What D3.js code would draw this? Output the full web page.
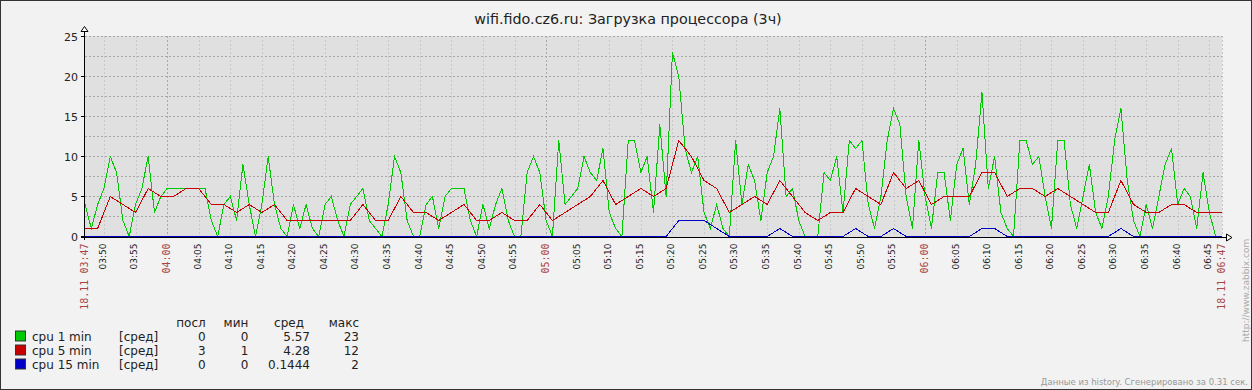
<!DOCTYPE html>
<html>
<head>
<meta charset="utf-8">
<script src="https://cdn.jsdelivr.net/npm/d3@7"></script>
<style>
  body { margin: 0; background: #f2f2f2; }
  svg { display: block; font-family: "DejaVu Sans", sans-serif; }
</style>
</head>
<body>
<svg id="chart" width="1252" height="390"></svg>
<script>
// cpu 1 min, one sample per minute from 03:47
const cpu1 = [
  4, 1, 4, 6, 10, 8, 2, 0, 4, 6, 10, 3, 5, 6, 6, 6, 6, 6, 6, 6,
  2, 0, 4, 5, 2, 9, 4, 0, 4, 10, 4, 1, 0, 4, 1, 4, 1, 0, 4, 5,
  2, 0, 4, 5, 6, 2, 1, 0, 4, 10, 8, 2, 0, 0, 4, 5, 1, 5, 6, 6,
  6, 2, 0, 4, 1, 4, 6, 2, 0, 0, 8, 10, 8, 2, 0, 12, 4, 5, 6, 10,
  8, 7, 11, 3, 1, 0, 12, 12, 8, 10, 3, 14, 5, 23, 20, 11, 8, 10, 3, 1,
  4, 1, 0, 12, 4, 9, 7, 2, 8, 10, 16, 5, 6, 2, 0, 0, 0, 8, 7, 10,
  3, 12, 11, 12, 4, 1, 5, 12, 16, 14, 5, 1, 12, 5, 1, 8, 8, 2, 9, 11,
  4, 9, 18, 6, 10, 3, 1, 0, 12, 12, 9, 10, 5, 1, 12, 12, 4, 1, 5, 9,
  3, 1, 5, 12, 16, 7, 2, 0, 4, 1, 5, 9, 11, 4, 6, 5, 1, 8, 3, 0,
  0
];
// cpu 5 min, one sample every 2 minutes
const cpu5 = [
  1, 1, 5, 4, 3, 6, 5, 5, 6, 6, 4, 4, 3, 4, 3, 4, 2, 2, 2, 2,
  2, 2, 4, 2, 2, 5, 3, 3, 2, 3, 4, 2, 2, 3, 2, 2, 4, 2, 3, 4,
  5, 7, 4, 5, 6, 5, 6, 12, 10, 7, 6, 3, 4, 5, 4, 7, 5, 3, 2, 3,
  3, 6, 5, 4, 8, 6, 7, 4, 5, 5, 5, 8, 8, 5, 6, 6, 5, 6, 5, 4,
  3, 3, 7, 4, 3, 3, 4, 4, 3, 3, 3
];
// cpu 15 min, one sample every 2 minutes
const cpu15 = [
  0, 0, 0, 0, 0, 0, 0, 0, 0, 0, 0, 0, 0, 0, 0, 0, 0, 0, 0, 0,
  0, 0, 0, 0, 0, 0, 0, 0, 0, 0, 0, 0, 0, 0, 0, 0, 0, 0, 0, 0,
  0, 0, 0, 0, 0, 0, 0, 2, 2, 2, 1, 0, 0, 0, 0, 1, 0, 0, 0, 0,
  0, 1, 0, 0, 1, 0, 0, 0, 0, 0, 0, 1, 1, 0, 0, 0, 0, 0, 0, 0,
  0, 0, 1, 0, 0, 0, 0, 0, 0, 0, 0
];

const seriesNames = ["cpu 1 min", "cpu 5 min", "cpu 15 min"];
const seriesColors = ["#00c800", "#c80000", "#0000c8"];
const legendHeads = ["посл", "мин", "сред", "макс"];
const lastVals = ["0", "3", "0"];
const minVals = ["0", "1", "0"];
const avgVals = ["5.57", "4.28", "0.1444"];
const maxVals = ["23", "12", "2"];
const yTicks = [0, 5, 10, 15, 20, 25];

const title = "wifi.fido.cz6.ru: Загрузка процессора (3ч)";
const footer = "Данные из history. Сгенерировано за 0.31 сек.";

const start = new Date(2000, 10, 18, 3, 47);
const end = d3.timeMinute.offset(start, 180);

const svg = d3.select("#chart");
const x = d3.scaleTime().domain([start, end]).range([85, 1222]);
const y = d3.scaleLinear().domain([0, 25]).range([236.5, 36.5]);

// background + frame
svg.append("rect").attr("x", 0.5).attr("y", 0.5).attr("width", 1251).attr("height", 389)
  .attr("fill", "#f2f2f2").attr("stroke", "#333");

svg.append("text").attr("x", 628).attr("y", 24).attr("text-anchor", "middle")
  .attr("font-size", 14.3).attr("fill", "#222").text(title);

// plot area
svg.append("rect").attr("x", 85).attr("y", 36).attr("width", 1137).attr("height", 201)
  .attr("fill", "#e0e0e0");

const grid = svg.append("g").attr("shape-rendering", "crispEdges");
d3.range(2.5, 25.01, 2.5).forEach(v => {
  grid.append("line").attr("x1", 85).attr("x2", 1222).attr("y1", y(v)).attr("y2", y(v))
    .attr("stroke", "#a8a8a8").attr("stroke-dasharray", "2,2");
});
const xTicks = x.ticks(d3.timeMinute.every(5)).filter(t => t > start && t < end);
xTicks.forEach(t => {
  const px = Math.round(x(t)) + 0.5;
  grid.append("line").attr("x1", px).attr("x2", px).attr("y1", 36).attr("y2", 236)
    .attr("stroke", t.getMinutes() === 0 ? "#a8a8a8" : "#c8c8c8")
    .attr("stroke-dasharray", "2,2");
});
grid.append("line").attr("x1", 1222.5).attr("x2", 1222.5).attr("y1", 36).attr("y2", 236)
  .attr("stroke", "#c8c8c8").attr("stroke-dasharray", "2,2");

// series
const line = d3.line().x(d => x(d.t)).y(d => y(d.v));
const sets = [
  cpu1.map((v, i) => ({ t: d3.timeMinute.offset(start, i), v })),
  cpu5.map((v, i) => ({ t: d3.timeMinute.offset(start, i * 2), v })),
  cpu15.map((v, i) => ({ t: d3.timeMinute.offset(start, i * 2), v }))
];
sets.forEach((d, i) => {
  svg.append("path").datum(d).attr("d", line).attr("fill", "none")
    .attr("stroke", seriesColors[i]).attr("stroke-width", 1)
    .attr("shape-rendering", "crispEdges");
});

// axes
const ax = svg.append("g").attr("stroke", "#000").attr("shape-rendering", "crispEdges");
ax.append("line").attr("x1", 84.5).attr("x2", 84.5).attr("y1", 32).attr("y2", 240);
ax.append("line").attr("x1", 81).attr("x2", 1226).attr("y1", 237.5).attr("y2", 237.5);
svg.append("path").attr("d", "M84.5,26.5 L88,31.5 L81,31.5 Z")
  .attr("fill", "#fff").attr("stroke", "#000");
svg.append("path").attr("d", "M1232,237.5 L1226.5,234 L1226.5,241 Z")
  .attr("fill", "#fff").attr("stroke", "#000");

yTicks.forEach(v => {
  ax.append("line").attr("x1", 81).attr("x2", 84).attr("y1", y(v)).attr("y2", y(v));
  svg.append("text").attr("x", 78).attr("y", y(v) + 4).attr("text-anchor", "end")
    .attr("font-size", 11).attr("fill", "#222").text(v);
});

const fmt = d3.timeFormat("%H:%M");
const fmtDate = d3.timeFormat("%d.%m %H:%M");
xTicks.forEach(t => {
  const hour = t.getMinutes() === 0;
  svg.append("text")
    .attr("transform", `translate(${x(t) + (hour ? 3.3 : 1.8)},243.5) rotate(-90)`)
    .attr("text-anchor", "end")
    .attr("font-family", hour ? "DejaVu Sans Mono" : "DejaVu Sans")
    .attr("font-size", hour ? 10 : 9)
    .attr("fill", hour ? "#a84444" : "#222")
    .text(fmt(t));
});
[start, end].forEach(t => {
  svg.append("text")
    .attr("transform", `translate(${x(t) + 3.3},243.5) rotate(-90)`)
    .attr("text-anchor", "end").attr("font-family", "DejaVu Sans Mono")
    .attr("font-size", 10).attr("fill", "#a84444").text(fmtDate(t));
});

// legend
const lg = svg.append("g").attr("font-size", 12).attr("fill", "#222");
const colX = [205.7, 248.3, 310, 359];
const headX = [205.7, 248.3, 304, 359];
legendHeads.forEach((h, i) => {
  lg.append("text").attr("x", headX[i]).attr("y", 326.5).attr("text-anchor", "end").text(h);
});
seriesNames.forEach((n, i) => {
  const by = 340.5 + i * 14;
  lg.append("rect").attr("x", 15.5).attr("y", by - 9.5).attr("width", 10).attr("height", 10)
    .attr("fill", seriesColors[i]).attr("stroke", "#333");
  lg.append("text").attr("x", 32).attr("y", by).text(n);
  lg.append("text").attr("x", 119).attr("y", by).text("[сред]");
  [lastVals[i], minVals[i], avgVals[i], maxVals[i]].forEach((v, j) => {
    lg.append("text").attr("x", colX[j]).attr("y", by).attr("text-anchor", "end").text(v);
  });
});

svg.append("text").attr("x", 1248).attr("y", 385).attr("text-anchor", "end")
  .attr("font-size", 8.5).attr("fill", "#999").text(footer);
svg.append("text").attr("transform", "translate(1249,342) rotate(-90)")
  .attr("font-size", 9).attr("fill", "#aaa").text("http://www.zabbix.com");
</script>
</body>
</html>
